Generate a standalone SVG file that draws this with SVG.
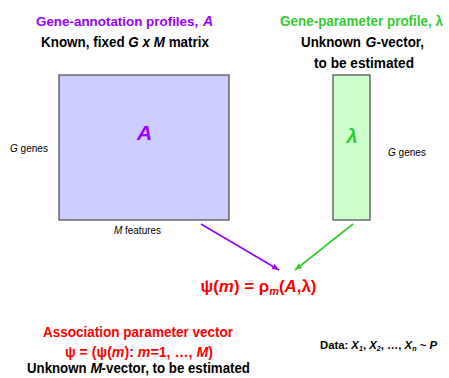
<svg xmlns="http://www.w3.org/2000/svg" width="449" height="378" viewBox="0 0 449 378">
<defs>
<style>
text{font-family:"Liberation Sans",Arial,sans-serif;}
.t{font-size:14px;font-weight:bold;text-anchor:middle;}
.l{font-size:14px;font-weight:bold;}
.s{font-size:10px;}
.pu{fill:#9900ff;}
.gr{fill:#33cc33;}
.rd{fill:#ff0000;}
.bk{fill:#000;}
.i{font-style:italic;}
.box{stroke:#555;stroke-width:1.3;}
</style>
<marker id="ap" markerWidth="8" markerHeight="8" refX="7" refY="4" orient="auto" markerUnits="userSpaceOnUse"><path d="M0,1 L7,4 L0,7 Z" fill="#9900ff"/></marker>
<marker id="ag" markerWidth="8" markerHeight="8" refX="7" refY="4" orient="auto" markerUnits="userSpaceOnUse"><path d="M0,1 L7,4 L0,7 Z" fill="#33cc33"/></marker>
</defs>
<rect width="449" height="378" fill="#fff"/>
<g id="title-A">
<text class="l pu" x="36" y="26" style="font-size:13.4px">Gene-annotation profiles,</text>
<text class="l pu i" x="203" y="26">A</text>
<text class="t bk" x="125" y="47" textLength="168" lengthAdjust="spacingAndGlyphs">Known, fixed <tspan class="i">G x M</tspan> matrix</text>
</g>
<g id="title-lambda">
<text class="t gr" x="361.5" y="26" textLength="163" lengthAdjust="spacingAndGlyphs">Gene-parameter profile, λ</text>
<text class="l bk" x="301" y="47" textLength="60" lengthAdjust="spacingAndGlyphs">Unknown</text>
<text class="l bk i" x="365.5" y="47">G</text>
<text class="l bk" x="376.5" y="47" textLength="47.5" lengthAdjust="spacingAndGlyphs">-vector,</text>
<text class="t bk" x="364" y="68" textLength="100" lengthAdjust="spacingAndGlyphs">to be estimated</text>
</g>
<g id="matrix-A">
<rect class="box" x="59" y="75" width="170" height="145" fill="#ccccff"/>
<text x="144.5" y="140" font-size="21" font-weight="bold" font-style="italic" text-anchor="middle" class="pu">A</text>
<text class="s" x="10" y="152" textLength="38" lengthAdjust="spacingAndGlyphs"><tspan class="i">G</tspan> genes</text>
<text class="s" x="114" y="234" textLength="47" lengthAdjust="spacingAndGlyphs"><tspan class="i">M</tspan> features</text>
</g>
<g id="vector-lambda">
<rect class="box" x="333" y="75" width="37" height="145" fill="#ccffcc"/>
<text x="352" y="143" font-size="20" font-style="italic" font-weight="bold" text-anchor="middle" class="gr">λ</text>
<text class="s" x="388" y="156" textLength="38" lengthAdjust="spacingAndGlyphs"><tspan class="i">G</tspan> genes</text>
</g>
<g id="connectors" stroke-width="1.6" fill="none">
<line x1="201" y1="224" x2="279" y2="270" stroke="#9900ff" marker-end="url(#ap)"/>
<line x1="353" y1="224" x2="295" y2="270" stroke="#33cc33" marker-end="url(#ag)"/>
</g>
<g id="formula">
<text class="rd" x="258.5" y="292" font-size="17" font-weight="bold" text-anchor="middle" textLength="116" lengthAdjust="spacingAndGlyphs">ψ(<tspan class="i">m</tspan>) = ρ<tspan class="i" font-size="11" dy="3">m</tspan><tspan dy="-3">(</tspan><tspan class="i">A</tspan>,λ)</text>
</g>
<g id="psi-vector">
<text class="t rd" x="138" y="337" textLength="190" lengthAdjust="spacingAndGlyphs">Association parameter vector</text>
<text class="t rd" x="139" y="357" textLength="148" lengthAdjust="spacingAndGlyphs">ψ = (ψ(<tspan class="i">m</tspan>): <tspan class="i">m</tspan>=1, …, <tspan class="i">M</tspan>)</text>
<text class="l bk" x="27" y="373" textLength="59.5" lengthAdjust="spacingAndGlyphs">Unknown</text>
<text class="l bk i" x="90.6" y="373">M</text>
<text class="l bk" x="101.6" y="373" textLength="148.4" lengthAdjust="spacingAndGlyphs">-vector, to be estimated</text>
</g>
<g id="data">
<text x="320" y="349" font-size="11" font-weight="bold" textLength="117" lengthAdjust="spacingAndGlyphs">Data: <tspan class="i">X</tspan><tspan class="i" font-size="7" dy="2">1</tspan><tspan dy="-2">, </tspan><tspan class="i">X</tspan><tspan class="i" font-size="7" dy="2">2</tspan><tspan dy="-2">, …, </tspan><tspan class="i">X</tspan><tspan class="i" font-size="7" dy="2">n</tspan><tspan dy="-2"> ~ </tspan><tspan class="i">P</tspan></text>
</g>
</svg>
